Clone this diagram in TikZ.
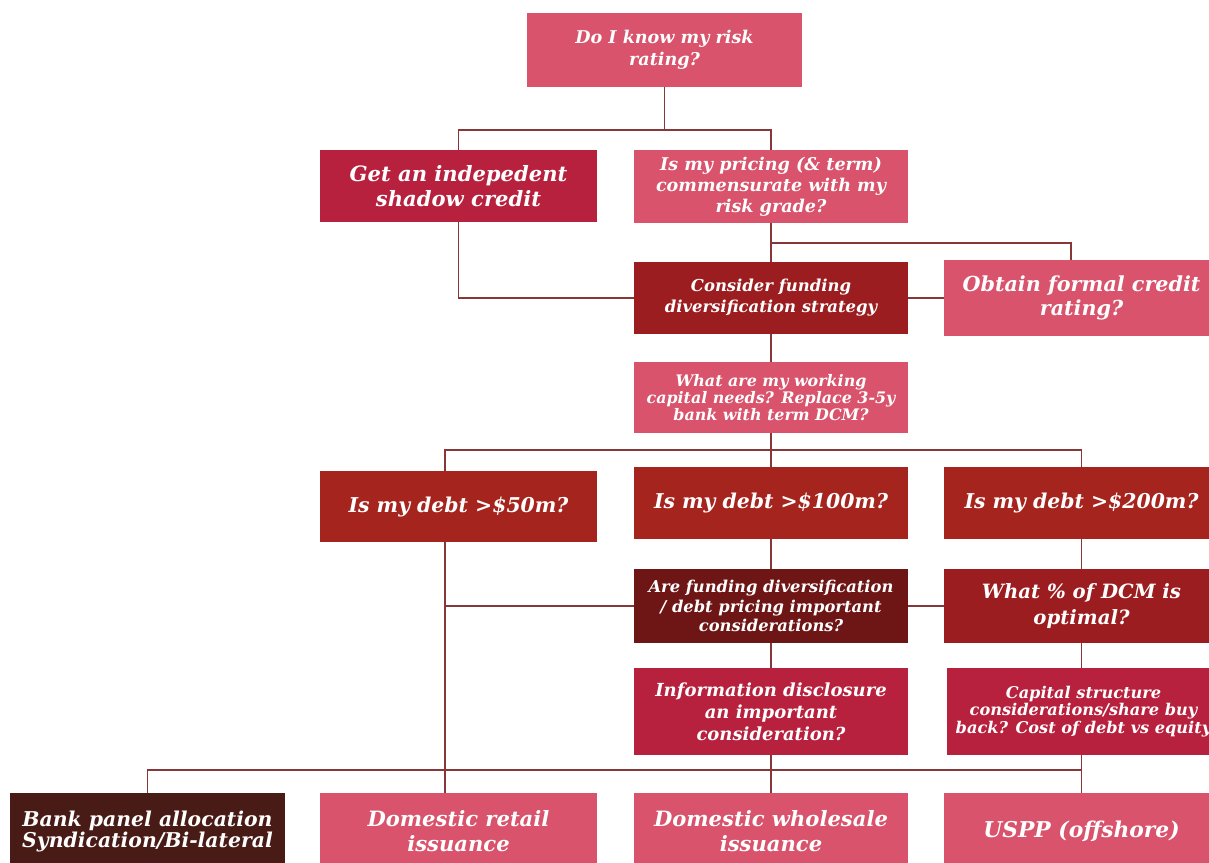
\documentclass[tikz,border=0pt]{standalone}
\usepackage{fontspec}
\setmainfont{DejaVu Serif}
\usepackage{tikz}
\usetikzlibrary{positioning}
\definecolor{pinkbox}{RGB}{216,83,107}
\definecolor{crimbox}{RGB}{184,33,62}
\definecolor{redbox}{RGB}{166,36,30}
\definecolor{darkbox}{RGB}{155,29,31}
\definecolor{deepbox}{RGB}{110,22,22}
\definecolor{brownbox}{RGB}{72,27,22}
\definecolor{linkcol}{RGB}{135,55,55}
\newcommand{\boxfont}[2]{\bfseries\itshape\fontsize{#1}{#2}\selectfont}
\tikzset{box node/.style={rectangle,text=white,align=center,inner sep=1pt,
minimum width=6.875cm,minimum height=1.8cm}}
\tikzset{link/.style={draw=linkcol,line width=1.2pt}}

\begin{document}
\begin{tikzpicture}[x=0.025cm,y=-0.025cm]
\useasboundingbox (0,0) rectangle (1209,862);

% questions
\node[box node,fill=pinkbox,minimum height=1.85cm,font=\boxfont{12.5}{16}] (know) at (664.5,50) {Do I know my risk\\rating?};
\node[box node,fill=crimbox,minimum width=6.925cm,font=\boxfont{15}{17.7}] (shadow) at (458.5,186) {Get an indepedent\\shadow credit};
\node[box node,fill=pinkbox,minimum width=6.85cm,font=\boxfont{12.5}{15}] (pricing) at (771,186.5) {Is my pricing (\& term)\\commensurate with my\\risk grade?};
\node[box node,fill=darkbox,minimum width=6.85cm,font=\boxfont{11.7}{15}] (consider) at (771,298) {Consider funding\\diversification strategy};
\node[box node,fill=pinkbox,minimum height=1.875cm,font=\boxfont{14.7}{17}] (obtain) at (1081.5,298) {Obtain formal credit\\rating?};
\node[box node,fill=pinkbox,minimum width=6.85cm,minimum height=1.775cm,font=\boxfont{11.3}{12.3}] (working) at (771,397.5) {What are my working\\capital needs? Replace 3-5y\\bank with term DCM?};

% debt size
\node[box node,fill=redbox,minimum width=6.925cm,minimum height=1.775cm,font=\boxfont{14.5}{17}] (d50) at (458.5,506.5) {Is my debt >\$50m?};
\node[box node,fill=redbox,minimum width=6.85cm,font=\boxfont{14.5}{17}] (d100) at (771,503) {Is my debt >\$100m?};
\node[box node,fill=redbox,font=\boxfont{14.5}{17}] (d200) at (1081.5,503) {Is my debt >\$200m?};
\node[box node,fill=deepbox,minimum width=6.85cm,minimum height=1.85cm,font=\boxfont{11.6}{13.8}] (arefund) at (771,606) {Are funding diversification\\/ debt pricing important\\considerations?};
\node[box node,fill=darkbox,minimum height=1.85cm,font=\boxfont{14}{18}] (whatpct) at (1081.5,606) {What \% of DCM is\\optimal?};
\node[box node,fill=crimbox,minimum width=6.85cm,minimum height=2.175cm,font=\boxfont{12.8}{15.6}] (info) at (771,711.5) {Information disclosure\\an important\\consideration?};
\node[box node,fill=crimbox,minimum width=6.8cm,minimum height=2.175cm,font=\boxfont{11.5}{12.2}] (capital) at (1083.5,711.5) {Capital structure\\considerations/share buy\\back? Cost of debt vs equity};

% outcomes
\node[box node,fill=brownbox,minimum height=1.925cm,font=\boxfont{14.5}{15.6}] (bank) at (147.5,831.5) {Bank panel allocation\\Syndication/Bi-lateral};
\node[box node,fill=pinkbox,minimum width=6.925cm,minimum height=1.925cm,font=\boxfont{15}{17.7}] (retail) at (458.5,831.5) {Domestic retail\\issuance};
\node[box node,fill=pinkbox,minimum width=6.85cm,minimum height=1.925cm,font=\boxfont{15}{17.7}] (wholesale) at (771,831.5) {Domestic wholesale\\issuance};
\node[box node,fill=pinkbox,minimum height=1.925cm,font=\boxfont{15.5}{17.7}] (uspp) at (1081.5,831.5) {USPP (offshore)};

% connectors
\coordinate (b2) at (771,243);
\coordinate (s50) at (445,0);
\coordinate (s200) at (1071,0);
\coordinate (b4) at (0,770);

\draw[link] (know.south) -- ++(0,43) coordinate (b1);
\draw[link] (shadow.north) |- (b1) -| (pricing.north);
\draw[link] (shadow.south) |- (consider.west);
\draw[link] (pricing.south) -- (consider.north);
\draw[link] (b2) -| (obtain.north -| s200);
\draw[link] (consider.east) -- (obtain.west);
\draw[link] (consider.south) -- (working.north);

\draw[link] (working.south) -- ++(0,17) coordinate (b3);
\draw[link] (d50.north -| s50) |- (b3) -| (d200.north);
\draw[link] (b3) -- (d100.north);

\draw[link] (d50.south -| s50) -- (retail.north -| s50);
\draw[link] (d50.south -| s50) |- (arefund.west);
\draw[link] (d100.south) -- (arefund.north);
\draw[link] (d200.south) -- (whatpct.north);
\draw[link] (arefund.east) -- (whatpct.west);
\draw[link] (arefund.south) -- (info.north);
\draw[link] (whatpct.south) -- (whatpct.south |- capital.north);

\draw[link] (info.south) -- (wholesale.north);
\draw[link] (uspp.north |- capital.south) -- (uspp.north);
\draw[link] (bank.north) |- (b4 -| uspp.north);

\end{tikzpicture}
\end{document}
